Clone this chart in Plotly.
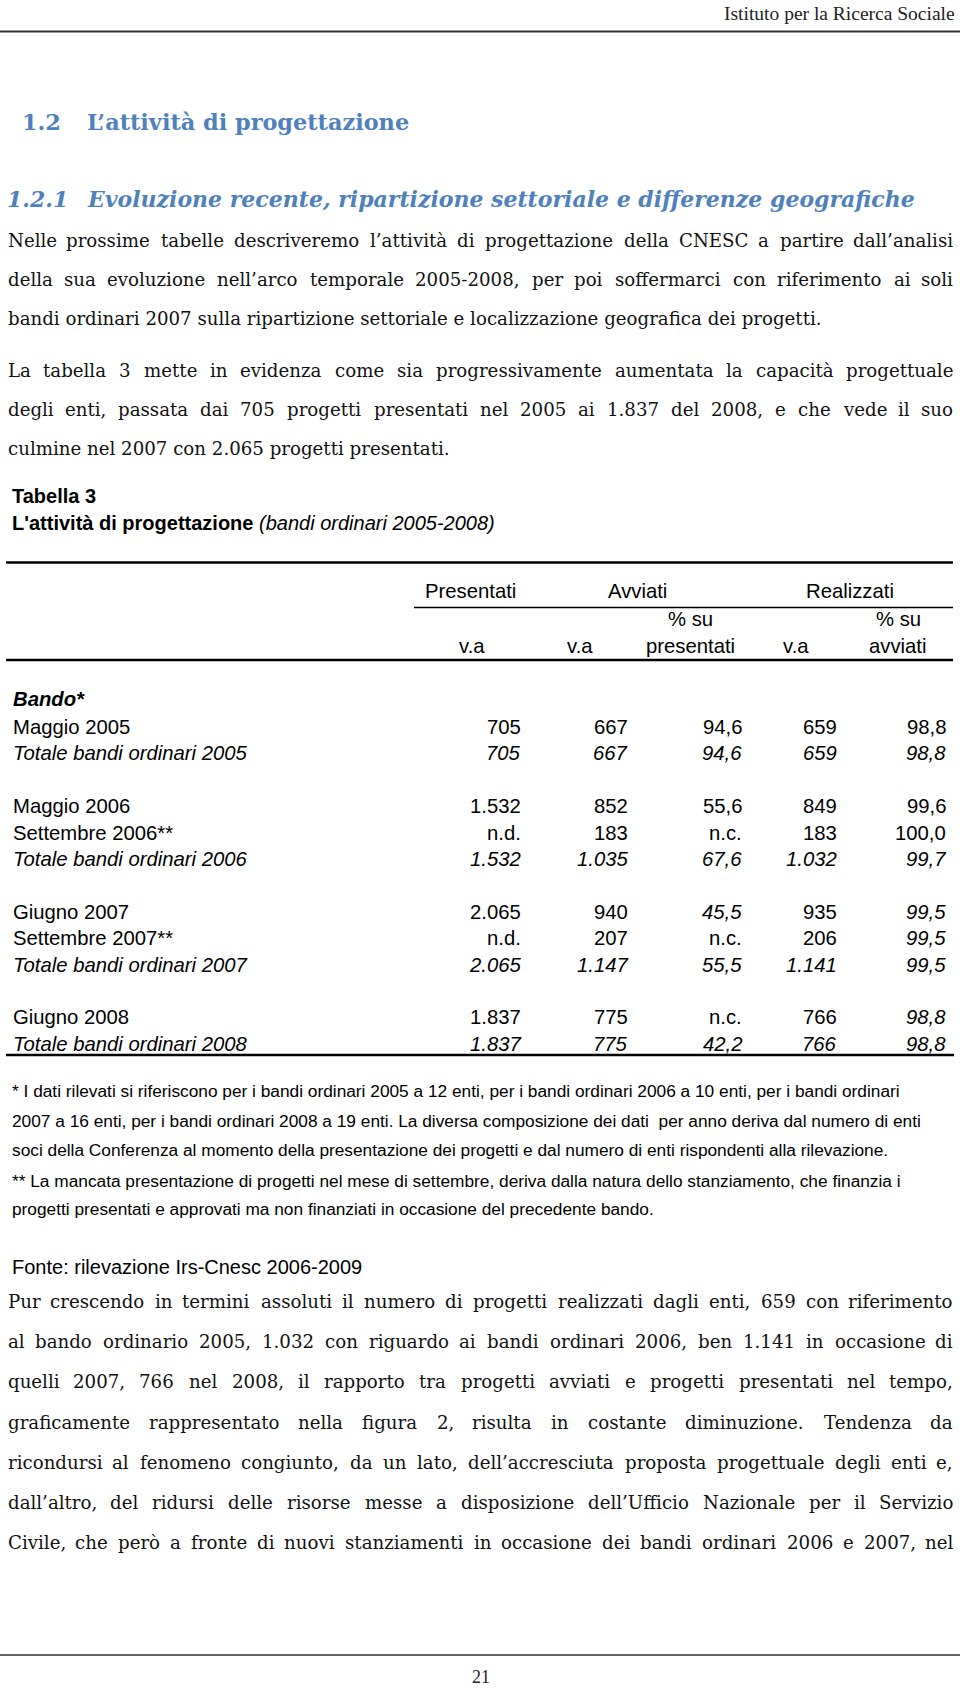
import plotly.graph_objects as go

W, H = 960, 1689

# ---------------- data ----------------
header_text = "Istituto per la Ricerca Sociale"
heading_num = "1.2"
heading_text = "L’attività di progettazione"
sub_num = "1.2.1"
sub_text = "Evoluzione recente, ripartizione settoriale e differenze geografiche"

para1 = [
    "Nelle prossime tabelle descriveremo l’attività di progettazione della CNESC a partire dall’analisi",
    "della sua evoluzione nell’arco temporale 2005-2008, per poi soffermarci con riferimento ai soli",
    "bandi ordinari 2007 sulla ripartizione settoriale e localizzazione geografica dei progetti.",
]
para2 = [
    "La tabella 3 mette in evidenza come sia progressivamente aumentata la capacità progettuale",
    "degli enti, passata dai 705 progetti presentati nel 2005 ai 1.837 del 2008, e che vede il suo",
    "culmine nel 2007 con 2.065 progetti presentati.",
]

table_title = "Tabella 3"
table_subtitle_bold = "L'attività di progettazione"
table_subtitle_it = "(bandi ordinari 2005-2008)"

group_headers = ["Presentati", "Avviati", "Realizzati"]
sub_headers_top = ["", "", "% su", "", "% su"]
sub_headers_bot = ["v.a", "v.a", "presentati", "v.a", "avviati"]
section_label = "Bando*"

row_labels = ["Maggio 2005", "Totale bandi ordinari 2005",
              "Maggio 2006", "Settembre 2006**", "Totale bandi ordinari 2006",
              "Giugno 2007", "Settembre 2007**", "Totale bandi ordinari 2007",
              "Giugno 2008", "Totale bandi ordinari 2008"]
presentati_va = ["705", "705", "1.532", "n.d.", "1.532", "2.065", "n.d.", "2.065", "1.837", "1.837"]
avviati_va = ["667", "667", "852", "183", "1.035", "940", "207", "1.147", "775", "775"]
avviati_pct = ["94,6", "94,6", "55,6", "n.c.", "67,6", "45,5", "n.c.", "55,5", "n.c.", "42,2"]
realizzati_va = ["659", "659", "849", "183", "1.032", "935", "206", "1.141", "766", "766"]
realizzati_pct = ["98,8", "98,8", "99,6", "100,0", "99,7", "99,5", "99,5", "99,5", "98,8", "98,8"]

footnotes = [
    "* I dati rilevati si riferiscono per i bandi ordinari 2005 a 12 enti, per i bandi ordinari 2006 a 10 enti, per i bandi ordinari",
    "2007 a 16 enti, per i bandi ordinari 2008 a 19 enti. La diversa composizione dei dati  per anno deriva dal numero di enti",
    "soci della Conferenza al momento della presentazione dei progetti e dal numero di enti rispondenti alla rilevazione.",
    "** La mancata presentazione di progetti nel mese di settembre, deriva dalla natura dello stanziamento, che finanzia i",
    "progetti presentati e approvati ma non finanziati in occasione del precedente bando.",
]
source_text = "Fonte: rilevazione Irs-Cnesc 2006-2009"

para3 = [
    "Pur crescendo in termini assoluti il numero di progetti realizzati dagli enti, 659 con riferimento",
    "al bando ordinario 2005, 1.032 con riguardo ai bandi ordinari 2006, ben 1.141 in occasione di",
    "quelli 2007, 766 nel 2008, il rapporto tra progetti avviati e progetti presentati nel tempo,",
    "graficamente rappresentato nella figura 2, risulta in costante diminuzione. Tendenza da",
    "ricondursi al fenomeno congiunto, da un lato, dell’accresciuta proposta progettuale degli enti e,",
    "dall’altro, del ridursi delle risorse messe a disposizione dell’Ufficio Nazionale per il Servizio",
    "Civile, che però a fronte di nuovi stanziamenti in occasione dei bandi ordinari 2006 e 2007, nel",
]
page_number = "21"

# ---------------- helpers ----------------
SERIF = "DejaVu Serif"
SANS = "Liberation Sans"
TIMES = "Liberation Serif"
BLUE = "#4F81BD"
INK = "#111111"

SERIF_W = {
    ' ': .318, 'a': .596, 'b': .640, 'c': .564, 'd': .640, 'e': .592, 'f': .371, 'g': .640,
    'h': .646, 'i': .320, 'j': .313, 'k': .609, 'l': .320, 'm': .958, 'n': .646, 'o': .602,
    'p': .640, 'q': .640, 'r': .478, 's': .513, 't': .402, 'u': .646, 'v': .565, 'w': .821,
    'x': .565, 'y': .565, 'z': .525, 'à': .596, 'è': .592, 'é': .592, 'ò': .602, 'ù': .646,
    'ì': .320, ',': .318, '.': .318, '’': .318, "'": .275, '-': .338, ':': .337,
    'A': .722, 'B': .735, 'C': .765, 'D': .802, 'E': .730, 'F': .694, 'G': .799, 'H': .872,
    'I': .395, 'L': .685, 'M': .995, 'N': .858, 'O': .820, 'P': .675, 'R': .766, 'S': .685,
    'T': .705, 'U': .832, 'V': .722, 'W': 1.067, 'Z': .684,
}
for d in "0123456789":
    SERIF_W[d] = .636


def serif_width(s, size):
    return sum(SERIF_W.get(c, .6) for c in s) * size


annotations = []


def txt(x, y, text, size, family, color=INK, anchor="left"):
    annotations.append(dict(
        x=x, y=y, xref="x", yref="y", text=text, showarrow=False,
        xanchor=anchor, yanchor="middle", borderpad=0,
        font=dict(family=family, size=size, color=color)))


def justified(line, y, x0, x1, size):
    words = line.split()
    ws = [serif_width(w, size) for w in words]
    gap = (x1 - x0 - sum(ws)) / (len(words) - 1)
    x = x0
    for i, (w, wd) in enumerate(zip(words, ws)):
        if i == 0:
            txt(x0, y, w, size, SERIF)
        elif i == len(words) - 1:
            txt(x1, y, w, size, SERIF, anchor="right")
        else:
            txt(x + wd / 2, y, w, size, SERIF, anchor="center")
        x += wd + gap


def paragraph(lines, y0, step, x0, x1, size, last_justified=False):
    for i, line in enumerate(lines):
        y = y0 + i * step
        if i < len(lines) - 1 or last_justified:
            justified(line, y, x0, x1, size)
        else:
            txt(x0, y, line, size, SERIF)


shapes = []


def rule(x0, x1, y, w, color="#111111"):
    shapes.append(dict(type="line", xref="x", yref="y", x0=x0, x1=x1, y0=y, y1=y,
                       line=dict(color=color, width=w)))


# ---------------- page header & headings ----------------
txt(956, 13, header_text, 19.5, TIMES, color="#222222", anchor="right")
rule(0, 960, 31.5, 2, "#333333")

HD = 22.4
txt(21, 122, "<b>" + heading_num + "</b>", HD, SERIF, color=BLUE)
txt(86, 122, "<b>" + heading_text + "</b>", HD, SERIF, color=BLUE)
SH = 22
txt(6, 199, "<b><i>" + sub_num + "</i></b>", SH, SERIF, color=BLUE)
txt(86, 199, "<b><i>" + sub_text + "</i></b>", SH, SERIF, color=BLUE)

BODY = 18.2
paragraph(para1, 240, 39, 7, 954, BODY)
paragraph(para2, 370, 39, 7, 954, BODY)

# ---------------- table ----------------
TT = 20
txt(11, 496, "<b>" + table_title + "</b>", TT, SANS, color="#000000")
txt(11, 523, "<b>" + table_subtitle_bold + "</b> <i>" + table_subtitle_it + "</i>", TT, SANS,
    color="#000000")

TS = 20.3
rule(6, 953, 562.5, 2.4, "#000000")
group_centers = [470, 637, 850]
for c, g in zip(group_centers, group_headers):
    txt(c, 591, g, TS, SANS, color="#000000", anchor="center")
rule(414, 953, 607.5, 1.4, "#000000")
sub_centers = [472, 580, 690, 796, 898]
for c, t1, t2 in zip(sub_centers, sub_headers_top, sub_headers_bot):
    if t1:
        txt(c, 619, t1, TS, SANS, color="#000000", anchor="center")
    txt(c, 646, t2, TS, SANS, color="#000000", anchor="center")
rule(6, 953, 660, 2.4, "#000000")

ROW0, ROWSTEP = 699, 26.4
txt(12, ROW0, "<b><i>" + section_label + "</i></b>", TS, SANS, color="#000000")

col_right = [522, 629, 743, 838, 947]
columns = [presentati_va, avviati_va, avviati_pct, realizzati_va, realizzati_pct]
# italic cells that are not total rows (as printed in the source)
italic_cells = {(5, 2), (5, 4), (6, 4), (8, 4)}

k = 0
prev_year = None
for r, label in enumerate(row_labels):
    year = label.replace("*", "")[-4:]
    k += 1
    if prev_year is not None and year != prev_year:
        k += 1
    prev_year = year
    y = ROW0 + 1.5 + k * ROWSTEP
    total = label.startswith("Totale")
    lab = "<i>" + label + "</i>" if total else label
    txt(12, y, lab, TS, SANS, color="#000000")
    for ci, (xr, col) in enumerate(zip(col_right, columns)):
        v = col[r]
        if total or (r, ci) in italic_cells:
            v = "<i>" + v + "</i>"
        txt(xr, y, v, TS, SANS, color="#000000", anchor="right")

rule(6, 954, 1055, 2.4, "#000000")

# ---------------- notes ----------------
FN = 17.3
fn_y = [1091, 1121, 1150, 1181, 1209]
for yy, line in zip(fn_y, footnotes):
    txt(11, yy, line, FN, SANS, color="#000000")
txt(11, 1267, source_text, 20, SANS, color="#000000")

# ---------------- closing paragraph ----------------
paragraph(para3, 1301.5, 40.2, 7, 954, BODY, last_justified=True)

rule(0, 960, 1655, 1.6, "#333333")
txt(481, 1677, page_number, 18, TIMES, color="#222222", anchor="center")

# ---------------- figure ----------------
fig = go.Figure(go.Scatter(x=[], y=[], hoverinfo="skip", showlegend=False))
fig.update_layout(
    width=W, height=H, margin=dict(l=0, r=0, t=0, b=0),
    paper_bgcolor="white", plot_bgcolor="white",
    xaxis=dict(range=[0, W], visible=False, fixedrange=True),
    yaxis=dict(range=[H, 0], visible=False, fixedrange=True),
    annotations=annotations, shapes=shapes, showlegend=False,
)
fig.write_html(
    "out.html",
    config={"displayModeBar": False},
    post_script=("document.body.style.margin='0px';document.body.style.padding='0px';"
                 "document.documentElement.style.overflow='hidden';"
                 "document.body.style.overflow='hidden';"),
)
